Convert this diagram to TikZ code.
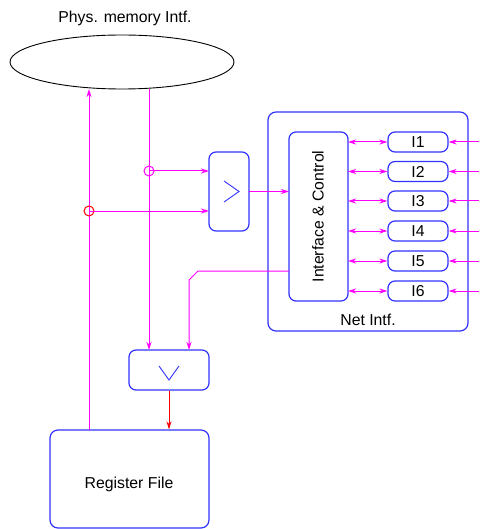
\documentclass[tikz,border=0pt]{standalone}
\usepackage{fontspec}
\setmainfont{Liberation Sans}
\usetikzlibrary{arrows.meta,shapes.geometric}
\definecolor{boxblue}{RGB}{50,50,255}
\definecolor{wire}{RGB}{255,0,255}
\definecolor{redw}{RGB}{255,0,0}
\begin{document}
\begin{tikzpicture}[x=1pt,y=-1pt,
  lbl/.style={font=\fontsize{15.8}{18}\selectfont, inner sep=0pt},
  blk/.style={draw=boxblue, line width=1.2pt, rounded corners=7pt},
  ibox/.style={draw=boxblue, line width=1.2pt, rounded corners=7pt, minimum width=60pt, minimum height=20pt, inner sep=0pt, font=\fontsize{15.8}{18}\selectfont},
  wr/.style={color=wire, line width=1pt},
  tip/.style={-{Stealth[length=8pt,width=5pt,inset=2.5pt]}},
  dtip/.style={{Stealth[length=8pt,width=5pt,inset=2.5pt]}-{Stealth[length=8pt,width=5pt,inset=2.5pt]}}]
\useasboundingbox (0,0) rectangle (479,529);
% title and ellipse
\node[lbl] (title) at (125,18) {Phys. memory Intf.};
\node[draw=black, line width=0.9pt, ellipse, minimum width=224pt, minimum height=54pt, inner sep=0pt] (mem) at (122,62) {};
% boxes
\node[blk, minimum width=40pt, minimum height=79pt, inner sep=0pt] (cmp) at (229,191.5) {};
\draw[boxblue, line width=0.9pt] (224,181) -- (239,191.5) -- (224,202);
\node[draw=boxblue, line width=1.2pt, rounded corners=8pt, minimum width=200pt, minimum height=219pt, inner sep=0pt] (net) at (368,221.5) {};
\node[lbl] (netl) at (368,320) {Net Intf.};
\node[blk, minimum width=59pt, minimum height=169pt, inner sep=0pt] (ic) at (318.5,216.5) {};
\node[lbl, rotate=90] (icl) at (318,216.5) {Interface \& Control};
\node[blk, minimum width=80pt, minimum height=40pt, inner sep=0pt] (mux) at (169,370) {};
\draw[boxblue, line width=0.9pt] (159,366) -- (169,380) -- (179,366);
\node[draw=boxblue, line width=1.2pt, rounded corners=8pt, minimum width=159pt, minimum height=98pt, inner sep=0pt] (rf) at (129.5,479) {};
\node[lbl] (rfl) at (129,484) {Register File};
% I boxes
\foreach \i/\y in {1/142,2/171.5,3/201,4/231,5/261,6/291}{
  \node[ibox] (I\i) at (418,\y) {I\i};
  \coordinate (ic\i) at (348,\y);
  \coordinate (ext\i) at (479,\y);
  \draw[wr, dtip] (ic\i) -- (I\i.west);
  \draw[wr, tip] (ext\i) -- (I\i.east);
}
% memory read/write lines
\coordinate (rfup) at (89,430);
\coordinate (memw) at (89,89);
\draw[wr, tip] (rfup) -- (memw);
\coordinate (memr) at (149,89);
\coordinate (muxa) at (149,350);
\draw[wr, tip] (memr) -- (muxa);
% taps
\node[draw=wire, circle, minimum size=10pt, inner sep=0pt, line width=1pt] (c1) at (149,171) {};
\node[draw=redw, circle, minimum size=10pt, inner sep=0pt, line width=1pt] (c2) at (89,211) {};
\coordinate (cmpa) at (209,171);
\coordinate (cmpb) at (209,211);
\draw[wr, tip] (c1.center) -- (cmpa);
\draw[wr, tip] (c2.center) -- (cmpb);
% comparator to interface
\coordinate (cmpo) at (249,191.5);
\coordinate (ici) at (289,191.5);
\draw[wr, tip] (cmpo) -- (ici);
% interface to mux
\coordinate (ico) at (289,271);
\coordinate (muxb) at (189,350);
\draw[wr, tip] (ico) -- (198,271) -- (189,280) -- (muxb);
% mux to register file
\draw[color=redw, line width=1pt, tip] (mux.south) -- (rf.north -| mux.south);
\end{tikzpicture}
\end{document}
